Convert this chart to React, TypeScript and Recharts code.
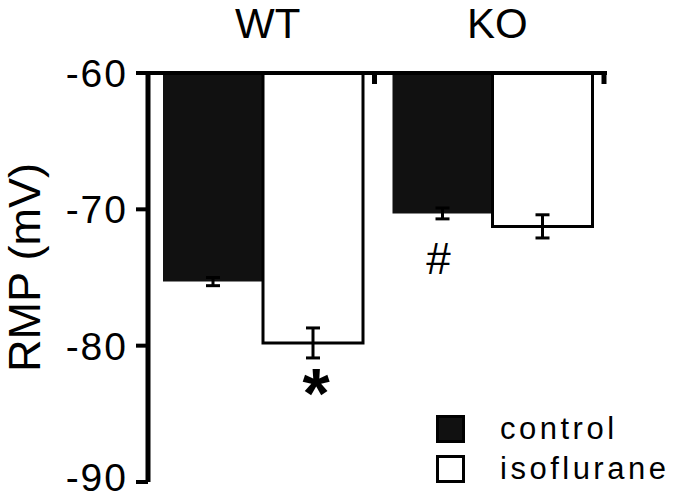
import { BarChart, Bar, XAxis, YAxis, ErrorBar, LabelList, Legend } from "recharts";

const groups = ["WT", "KO"];
const control = [-75.3, -70.3];
const controlErr = [0.3, 0.4];
const isoflurane = [-79.8, -71.25];
const isoErr = [1.1, 0.85];
const controlMarks = ["", "#"];
const isoMarks = ["*", ""];
const yTicks = [-60, -70, -80, -90];

const FONT = '"Liberation Sans", Arial, Helvetica, sans-serif';

const CHART_W = 675;
const CHART_H = 499;
const MARGIN = { top: 0, right: 68, bottom: 17, left: 0 };
const Y_AXIS_W = 148;
const X_AXIS_H = 73;
const PLOT_W = CHART_W - MARGIN.left - MARGIN.right - Y_AXIS_W;
const BAND = PLOT_W / groups.length;
const AXIS_Y = MARGIN.top + X_AXIS_H;
const TICK_FS = 39;

const data = groups.map((g, i) => ({
  group: g,
  control: control[i],
  controlErr: controlErr[i],
  isoflurane: isoflurane[i],
  isoErr: isoErr[i],
  controlMark: controlMarks[i],
  isoMark: isoMarks[i],
}));

// group label above the top axis, plus the little downward tick at the band edge
function GroupTick({ x, payload }: any) {
  const edge = x + BAND / 2 - 3;
  return (
    <g>
      <text x={x + 5} y={AXIS_Y - 35} textAnchor="middle" fontSize={42} fontFamily={FONT} fill="#000">
        {payload.value}
      </text>
      <line x1={edge} y1={AXIS_Y} x2={edge} y2={AXIS_Y + 11} stroke="#000" strokeWidth={5} />
    </g>
  );
}

function YTick({ x, y, payload }: any) {
  // keep the bottom label inside the picture
  const baseline = Math.min(y + TICK_FS * 0.36, CHART_H - TICK_FS * 0.21);
  return (
    <text x={x} y={baseline} textAnchor="end" fontSize={TICK_FS} letterSpacing={2} fontFamily={FONT} fill="#000">
      {payload.value}
    </text>
  );
}

function YLabel({ viewBox }: any) {
  const cx = viewBox.x + 24;
  const cy = viewBox.y + viewBox.height / 2 - 10;
  return (
    <text
      x={cx}
      y={cy}
      dy="0.36em"
      textAnchor="middle"
      fontSize={45}
      fontFamily={FONT}
      fill="#000"
      transform={`rotate(-90, ${cx}, ${cy})`}
    >
      RMP (mV)
    </text>
  );
}

// significance marks under the bars
function MarkLabel(props: any) {
  const vb = props.viewBox ?? props;
  const { x, y, width, height } = vb;
  const value = props.value;
  if (!value) return null;
  const bottom = Math.max(y, y + height);
  const cx = x + width / 2;
  if (value === "*") {
    return (
      <text x={cx + 3} y={bottom + 75} textAnchor="middle" fontSize={70} fontWeight="bold" fontFamily={FONT} fill="#000">
        *
      </text>
    );
  }
  return (
    <text x={cx - 4} y={bottom + 61} textAnchor="middle" fontSize={44} fontFamily={FONT} fill="#000">
      {value}
    </text>
  );
}

function LegendBox() {
  const rows = [
    { name: "control", fill: "#111" },
    { name: "isoflurane", fill: "#fff" },
  ];
  return (
    <div style={{ fontFamily: FONT }}>
      {rows.map((r) => (
        <div key={r.name} style={{ display: "flex", alignItems: "center", height: 40 }}>
          <div
            style={{
              width: 29,
              height: 28,
              boxSizing: "border-box",
              background: r.fill,
              border: "3px solid #000",
              marginRight: 35,
            }}
          />
          <span style={{ fontSize: 31, letterSpacing: 3.5, color: "#000", lineHeight: "40px" }}>{r.name}</span>
        </div>
      ))}
    </div>
  );
}

export default function App() {
  return (
    <div style={{ position: "absolute", left: 0, top: 0, width: CHART_W, height: CHART_H }}>
      <BarChart
        width={CHART_W}
        height={CHART_H}
        data={data}
        margin={MARGIN}
        barSize={100}
        barGap={0}
      >
        <XAxis
          dataKey="group"
          orientation="top"
          height={X_AXIS_H}
          axisLine={{ stroke: "#000", strokeWidth: 4 }}
          tickLine={false}
          tick={<GroupTick />}
          interval={0}
        />
        <YAxis
          type="number"
          domain={[-90, -60]}
          ticks={yTicks}
          width={Y_AXIS_W}
          allowDataOverflow
          axisLine={{ stroke: "#000", strokeWidth: 5 }}
          tickLine={{ stroke: "#000", strokeWidth: 4 }}
          tickSize={12}
          tickMargin={8}
          tick={<YTick />}
          label={<YLabel />}
        />
        <Legend
          layout="horizontal"
          verticalAlign="middle"
          align="center"
          content={<LegendBox />}
          wrapperStyle={{ left: 436, top: 409, width: 240 }}
        />
        <Bar dataKey="control" fill="#111" isAnimationActive={false}>
          <ErrorBar dataKey="controlErr" width={7} stroke="#000" strokeWidth={3} direction="y" isAnimationActive={false} />
          <LabelList dataKey="controlMark" content={<MarkLabel />} />
        </Bar>
        <Bar dataKey="isoflurane" fill="#fff" stroke="#000" strokeWidth={3} isAnimationActive={false}>
          <ErrorBar dataKey="isoErr" width={7} stroke="#000" strokeWidth={3} direction="y" isAnimationActive={false} />
          <LabelList dataKey="isoMark" content={<MarkLabel />} />
        </Bar>
      </BarChart>
    </div>
  );
}
